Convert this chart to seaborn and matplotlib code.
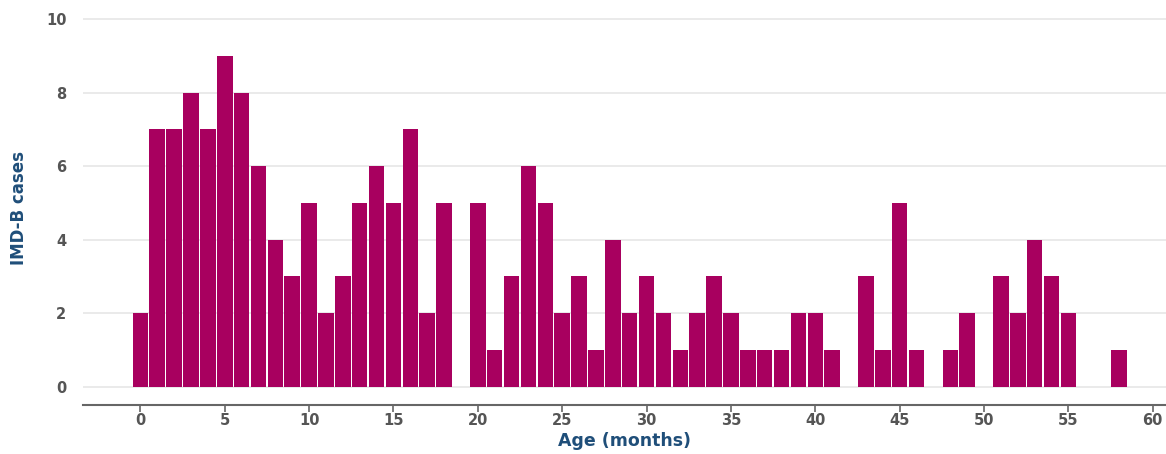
import matplotlib
matplotlib.use("Agg")
import matplotlib.pyplot as plt
import seaborn as sns
import pandas as pd

months = list(range(0, 59))
cases = [2, 7, 7, 8, 7, 9, 8, 6, 4, 3,
         5, 2, 3, 5, 6, 5, 7, 2, 5, 0,
         5, 1, 3, 6, 5, 2, 3, 1, 4, 2,
         3, 2, 1, 2, 3, 2, 1, 1, 1, 2,
         2, 1, 0, 3, 1, 5, 1, 0, 1, 2,
         0, 3, 2, 4, 3, 2, 0, 0, 1]
x_ticks = [0, 5, 10, 15, 20, 25, 30, 35, 40, 45, 50, 55, 60]
y_ticks = [0, 2, 4, 6, 8, 10]

df = pd.DataFrame({"Age (months)": months, "IMD-B cases": cases})

sns.set_theme(style="white")
plt.rcParams['font.family'] = ['DejaVu Sans']

fig = plt.figure(figsize=(11.66, 4.54), dpi=100)
ax = fig.add_axes([0.0712, 0.108, 0.929, 0.866])

sns.barplot(data=df, x="Age (months)", y="IMD-B cases", native_scale=True,
            color="#A8005F", saturation=1, width=0.92, linewidth=0, ax=ax)

ax.set_xlim(-3.4, 60.8)
ax.set_ylim(-0.5, 10.2)
ax.set_xticks(x_ticks)
ax.set_yticks(y_ticks)
ax.set_xticklabels([str(t) for t in x_ticks], fontsize=10.5, fontweight="bold", color="#555555")
ax.set_yticklabels([str(t) for t in y_ticks], fontsize=10.5, fontweight="bold", color="#555555")

for y in y_ticks:
    ax.axhline(y, color="#e6e6e6", linewidth=1.2, zorder=0)

for s in ["top", "right", "left"]:
    ax.spines[s].set_visible(False)
ax.spines["bottom"].set_color("#666666")
ax.spines["bottom"].set_linewidth(1.5)
ax.tick_params(axis="x", bottom=True, length=5, width=1.2, color="#666666", pad=1)
ax.tick_params(axis="y", left=False, pad=6)

ax.set_xlabel("Age (months)", fontsize=12.5, fontweight="bold", color="#1F4E79", labelpad=3)
ax.set_ylabel("IMD-B cases", fontsize=12, fontweight="bold", color="#1F4E79", labelpad=13)

fig.savefig("out.png", dpi=100, facecolor="white")
